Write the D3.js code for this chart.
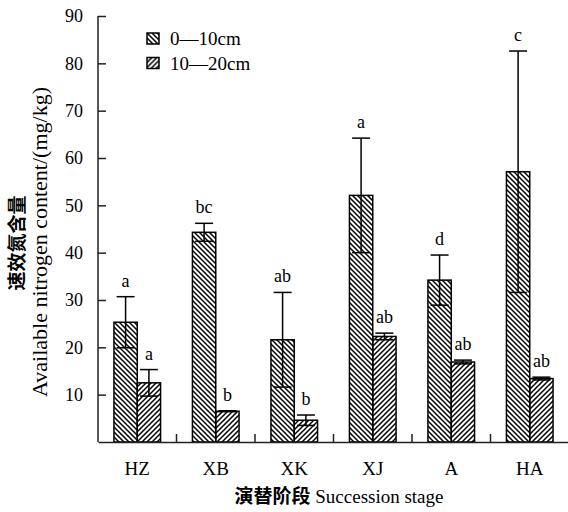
<!DOCTYPE html>
<html>
<head>
<meta charset="utf-8">
<script src="https://cdn.jsdelivr.net/npm/d3@7"></script>
<style>
  body { margin: 0; background: #fff; }
  svg text { font-family: "Liberation Serif", "Times New Roman", serif; fill: #000; }
  .cn { font-family: "Noto Sans CJK SC", sans-serif; font-weight: 700; }
</style>
</head>
<body>
<div id="chart"></div>
<script>
// data
var stages = ["HZ", "XB", "XK", "XJ", "A", "HA"];
var depths = ["0—10cm", "10—20cm"];
var topSoil = [25.3, 44.3, 21.6, 52.1, 34.2, 57.1];
var topErr = [5.4, 1.9, 10.0, 12.1, 5.3, 25.5];
var subSoil = [12.5, 6.5, 4.6, 22.3, 16.9, 13.4];
var subErr = [2.8, 0.1, 1.1, 0.7, 0.4, 0.3];
var topLetters = ["a", "bc", "ab", "a", "d", "c"];
var subLetters = ["a", "b", "b", "ab", "ab", "ab"];
var yTicks = [10, 20, 30, 40, 50, 60, 70, 80, 90];

var svgWidth = 568;
var svgHeight = 512;
var margin = { top: 16, left: 98, bottom: 70, right: 0 };
var width = svgWidth - margin.left - margin.right + 1;
var height = svgHeight - margin.top - margin.bottom;

var svg = d3.select("#chart")
    .append("svg")
    .attr("width", svgWidth)
    .attr("height", svgHeight);

// hatch fills
var defs = svg.append("defs");
defs.append("pattern")
    .attr("id", "hatchBack")
    .attr("patternUnits", "userSpaceOnUse")
    .attr("width", 5).attr("height", 5)
  .append("path")
    .attr("d", "M0,0L5,5M-1,4L1,6M4,-1L6,1")
    .attr("stroke", "#000").attr("stroke-width", 1.5);
defs.append("pattern")
    .attr("id", "hatchFwd")
    .attr("patternUnits", "userSpaceOnUse")
    .attr("width", 5).attr("height", 5)
  .append("path")
    .attr("d", "M0,5L5,0M-1,1L1,-1M4,6L6,4")
    .attr("stroke", "#000").attr("stroke-width", 1.5);
var fills = ["url(#hatchBack)", "url(#hatchFwd)"];

var chartGroup = svg.append("g")
    .attr("transform", `translate(${margin.left}, ${margin.top})`);

var x0 = d3.scaleBand().domain(stages).range([0, width]);
var x1 = d3.scaleBand().domain(depths).range([0, x0.bandwidth()]).paddingOuter(0.684);
var y = d3.scaleLinear().domain([0, 90]).range([height, 0]);

var rows = stages.map(function(s, i) {
    return [
        { stage: s, depth: depths[0], value: topSoil[i], err: topErr[i], letter: topLetters[i], k: 0 },
        { stage: s, depth: depths[1], value: subSoil[i], err: subErr[i], letter: subLetters[i], k: 1 }
    ];
});
var flat = d3.merge(rows);

// bars
chartGroup.selectAll("rect.bar")
    .data(flat)
    .enter()
    .append("rect")
    .classed("bar", true)
    .attr("x", d => x0(d.stage) + x1(d.depth))
    .attr("y", d => y(d.value))
    .attr("width", x1.bandwidth())
    .attr("height", d => height - y(d.value))
    .attr("fill", d => fills[d.k])
    .attr("stroke", "#000")
    .attr("stroke-width", 1.5);

// error bars
var capHalf = 9;
var eb = chartGroup.selectAll("g.err")
    .data(flat)
    .enter()
    .append("g")
    .classed("err", true)
    .attr("transform", d => `translate(${x0(d.stage) + x1(d.depth) + x1.bandwidth() / 2}, 0)`);
eb.append("line")
    .attr("y1", d => y(d.value - d.err))
    .attr("y2", d => y(d.value + d.err))
    .attr("stroke", "#000").attr("stroke-width", 1.5);
eb.append("line")
    .attr("x1", -capHalf).attr("x2", capHalf)
    .attr("y1", d => y(d.value + d.err))
    .attr("y2", d => y(d.value + d.err))
    .attr("stroke", "#000").attr("stroke-width", 1.5);
eb.append("line")
    .attr("x1", -capHalf).attr("x2", capHalf)
    .attr("y1", d => y(d.value - d.err))
    .attr("y2", d => y(d.value - d.err))
    .attr("stroke", "#000").attr("stroke-width", 1.5);
eb.append("text")
    .attr("y", d => y(d.value + d.err) - 10)
    .attr("text-anchor", "middle")
    .style("font-size", "18px")
    .text(d => d.letter);

// y axis, ticks pointing inward
var leftAxis = d3.axisLeft(y).tickValues(yTicks).tickSize(-8).tickPadding(15);
var yAxis = chartGroup.append("g").call(leftAxis);
yAxis.select(".domain").attr("stroke", "#222").attr("stroke-width", 1.5).attr("d", `M0,${height}V0`);
yAxis.selectAll(".tick line").attr("stroke", "#222").attr("stroke-width", 1.5);
yAxis.selectAll("text").style("font-size", "18px").style("font-family", "Liberation Serif");

// x axis: labels at centers, short ticks at group boundaries
var bottomAxis = d3.axisBottom(x0).tickSize(0).tickPadding(20);
var xAxis = chartGroup.append("g")
    .attr("transform", `translate(0, ${height})`)
    .call(bottomAxis);
xAxis.select(".domain").attr("stroke", "#222").attr("stroke-width", 1.5);
xAxis.selectAll("text").style("font-size", "19px").style("font-family", "Liberation Serif");
xAxis.selectAll("line.sep")
    .data(stages.slice(1))
    .enter()
    .append("line")
    .classed("sep", true)
    .attr("x1", d => x0(d)).attr("x2", d => x0(d))
    .attr("y1", 0).attr("y2", -8)
    .attr("stroke", "#222").attr("stroke-width", 1.5);

// axis titles
var xTitle = svg.append("text")
    .attr("x", 339)
    .attr("y", 503)
    .attr("text-anchor", "middle")
    .style("font-size", "19px");
xTitle.append("tspan").classed("cn", true).text("演替阶段");
xTitle.append("tspan").text(" Succession stage");

svg.append("text")
    .classed("cn", true)
    .attr("transform", "translate(24, 243) rotate(-90)")
    .attr("text-anchor", "middle")
    .style("font-size", "19px")
    .text("速效氮含量");
svg.append("text")
    .attr("transform", "translate(47, 242) rotate(-90)")
    .attr("text-anchor", "middle")
    .style("font-size", "22px")
    .text("Available nitrogen content/(mg/kg)");

// legend
var legend = svg.append("g").attr("transform", "translate(147, 33)");
var items = legend.selectAll("g")
    .data(depths)
    .enter()
    .append("g")
    .attr("transform", (d, i) => `translate(0, ${i * 24.5})`);
items.append("rect")
    .attr("width", 12).attr("height", 11)
    .attr("fill", (d, i) => fills[i])
    .attr("stroke", "#000").attr("stroke-width", 1.5);
items.append("text")
    .attr("x", 23).attr("y", 12)
    .style("font-size", "19px")
    .text(d => d);
</script>
</body>
</html>
